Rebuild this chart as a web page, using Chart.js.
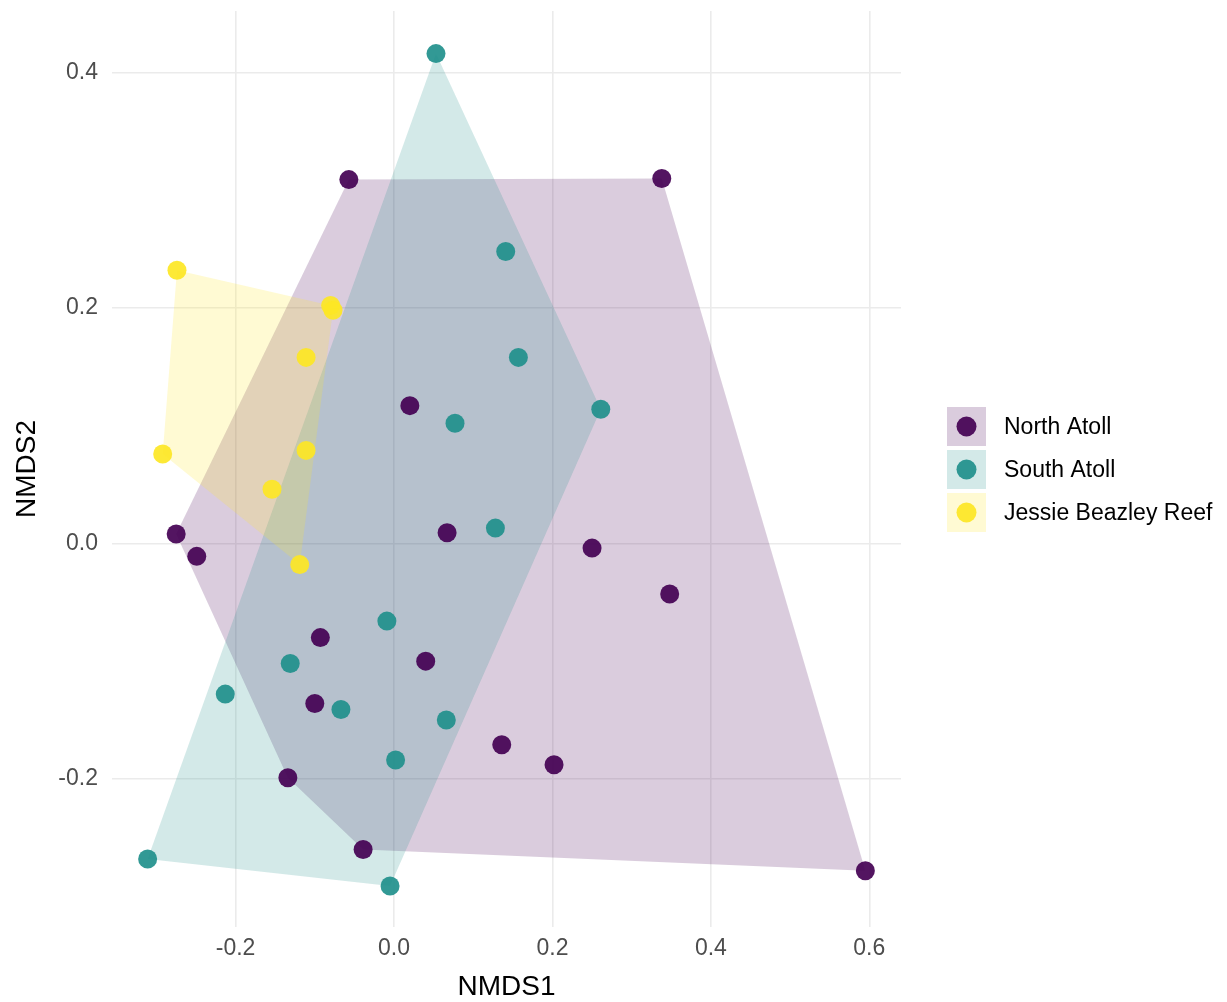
<!DOCTYPE html>
<html>
<head>
<meta charset="utf-8">
<script src="https://cdn.jsdelivr.net/npm/chart.js@4"></script>
<style>
  body { margin: 0; background: #fff; }
  #wrap { width: 1227px; height: 1002px; position: relative; }
</style>
</head>
<body>
<div id="wrap"><canvas id="chart"></canvas></div>
<script>
// NMDS scores
const northX = [-0.057, 0.338, 0.020, -0.275, -0.249, 0.067, 0.250, 0.348, -0.093, 0.040, -0.100, 0.136, 0.202, -0.134, -0.039, 0.595];
const northY = [0.309, 0.310, 0.117, 0.008, -0.011, 0.009, -0.004, -0.043, -0.080, -0.100, -0.136, -0.171, -0.188, -0.199, -0.260, -0.278];

const southX = [0.053, 0.141, 0.157, 0.261, 0.077, 0.128, -0.009, -0.131, -0.213, -0.067, 0.066, 0.002, -0.311, -0.005];
const southY = [0.416, 0.248, 0.158, 0.114, 0.102, 0.013, -0.066, -0.102, -0.128, -0.141, -0.150, -0.184, -0.268, -0.291];

const jessieX = [-0.274, -0.080, -0.077, -0.111, -0.292, -0.111, -0.154, -0.119];
const jessieY = [0.232, 0.202, 0.198, 0.158, 0.076, 0.079, 0.046, -0.018];

const groupNames = ['North Atoll', 'South Atoll', 'Jessie Beazley Reef'];
const groupColors = [[68, 1, 84], [33, 144, 140], [253, 231, 37]];

const xTicks = [-0.2, 0.0, 0.2, 0.4, 0.6];
const yTicks = [-0.2, 0.0, 0.2, 0.4];

const FONT = '"Liberation Sans", Arial, sans-serif';

const toPoints = (xs, ys) => xs.map((x, i) => ({ x: x, y: ys[i] }));
const groups = [toPoints(northX, northY), toPoints(southX, southY), toPoints(jessieX, jessieY)];

const rgba = (c, a) => `rgba(${c[0]}, ${c[1]}, ${c[2]}, ${a})`;

// Convex hull (monotone chain) on the data values
const convexHull = (pts) => {
  const p = pts.slice().sort((a, b) => a.x - b.x || a.y - b.y);
  const cross = (o, a, b) => (a.x - o.x) * (b.y - o.y) - (a.y - o.y) * (b.x - o.x);
  const lower = [];
  p.forEach(pt => {
    while (lower.length >= 2 && cross(lower[lower.length - 2], lower[lower.length - 1], pt) <= 0) lower.pop();
    lower.push(pt);
  });
  const upper = [];
  p.slice().reverse().forEach(pt => {
    while (upper.length >= 2 && cross(upper[upper.length - 2], upper[upper.length - 1], pt) <= 0) upper.pop();
    upper.push(pt);
  });
  upper.pop();
  lower.pop();
  return lower.concat(upper);
};

// Draw the hull polygons under the points
const hullPlugin = {
  id: 'hulls',
  beforeDatasetsDraw(chart) {
    const { ctx, scales } = chart;
    ctx.save();
    groups.forEach((pts, g) => {
      const hull = convexHull(pts);
      ctx.beginPath();
      hull.forEach((pt, i) => {
        const px = scales.x.getPixelForValue(pt.x);
        const py = scales.y.getPixelForValue(pt.y);
        if (i === 0) ctx.moveTo(px, py); else ctx.lineTo(px, py);
      });
      ctx.closePath();
      ctx.fillStyle = rgba(groupColors[g], 0.2);
      ctx.fill();
    });
    ctx.restore();
  }
};

// ggplot-style legend on the right
const legendPlugin = {
  id: 'ggLegend',
  afterDraw(chart) {
    const { ctx } = chart;
    const boxX = 947, boxY = 407, box = 39, step = 43;
    ctx.save();
    groupNames.forEach((name, g) => {
      const y = boxY + g * step;
      ctx.fillStyle = rgba(groupColors[g], 0.2);
      ctx.fillRect(boxX, y, box, box);
      ctx.beginPath();
      ctx.arc(boxX + box / 2, y + box / 2, 10, 0, Math.PI * 2);
      ctx.fillStyle = rgba(groupColors[g], 0.92);
      ctx.fill();
      ctx.fillStyle = '#000';
      ctx.font = `23px ${FONT}`;
      ctx.textBaseline = 'middle';
      ctx.textAlign = 'left';
      ctx.fillText(name, 1004, y + box / 2 + 1);
    });
    ctx.restore();
  }
};

const datasets = groups.map((pts, g) => ({
  label: groupNames[g],
  data: pts,
  backgroundColor: rgba(groupColors[g], 0.92),
  borderWidth: 0,
  pointRadius: 9.5,
  pointHoverRadius: 9.5,
  order: 2 - g
}));

const gridStyle = {
  color: '#EBEBEB',
  lineWidth: 1.6,
  drawTicks: false
};

new Chart(document.getElementById('chart'), {
  type: 'scatter',
  data: { datasets },
  options: {
    responsive: true,
    maintainAspectRatio: false,
    animation: false,
    layout: { padding: { left: 0, right: 326, top: 11, bottom: 0 } },
    plugins: {
      legend: { display: false },
      tooltip: { enabled: false }
    },
    scales: {
      x: {
        type: 'linear',
        min: -0.356,
        max: 0.640,
        bounds: 'data',
        border: { display: false },
        grid: gridStyle,
        afterBuildTicks: (scale) => { scale.ticks = xTicks.map(v => ({ value: v })); },
        afterFit: (scale) => {
          scale.height = 75;
          scale.paddingLeft = 0;
          scale.paddingRight = 0;
        },
        ticks: {
          padding: 8,
          color: '#4D4D4D',
          font: { family: FONT, size: 23 },
          callback: (v) => Number(v).toFixed(1)
        },
        title: {
          display: true,
          text: 'NMDS1',
          color: '#000',
          font: { family: FONT, size: 28, lineHeight: 1 },
          padding: { top: 0, bottom: 1 }
        }
      },
      y: {
        type: 'linear',
        min: -0.3258,
        max: 0.4522,
        bounds: 'data',
        border: { display: false },
        grid: gridStyle,
        afterBuildTicks: (scale) => { scale.ticks = yTicks.map(v => ({ value: v })); },
        afterFit: (scale) => {
          scale.width = 112;
          scale.paddingTop = 0;
          scale.paddingBottom = 0;
        },
        ticks: {
          padding: 14,
          color: '#4D4D4D',
          font: { family: FONT, size: 23 },
          callback: (v) => Number(v).toFixed(1)
        },
        title: {
          display: true,
          text: 'NMDS2',
          color: '#000',
          font: { family: FONT, size: 28, lineHeight: 1 },
          padding: { top: 13, bottom: 0 }
        }
      }
    }
  },
  plugins: [hullPlugin, legendPlugin]
});
</script>
</body>
</html>
